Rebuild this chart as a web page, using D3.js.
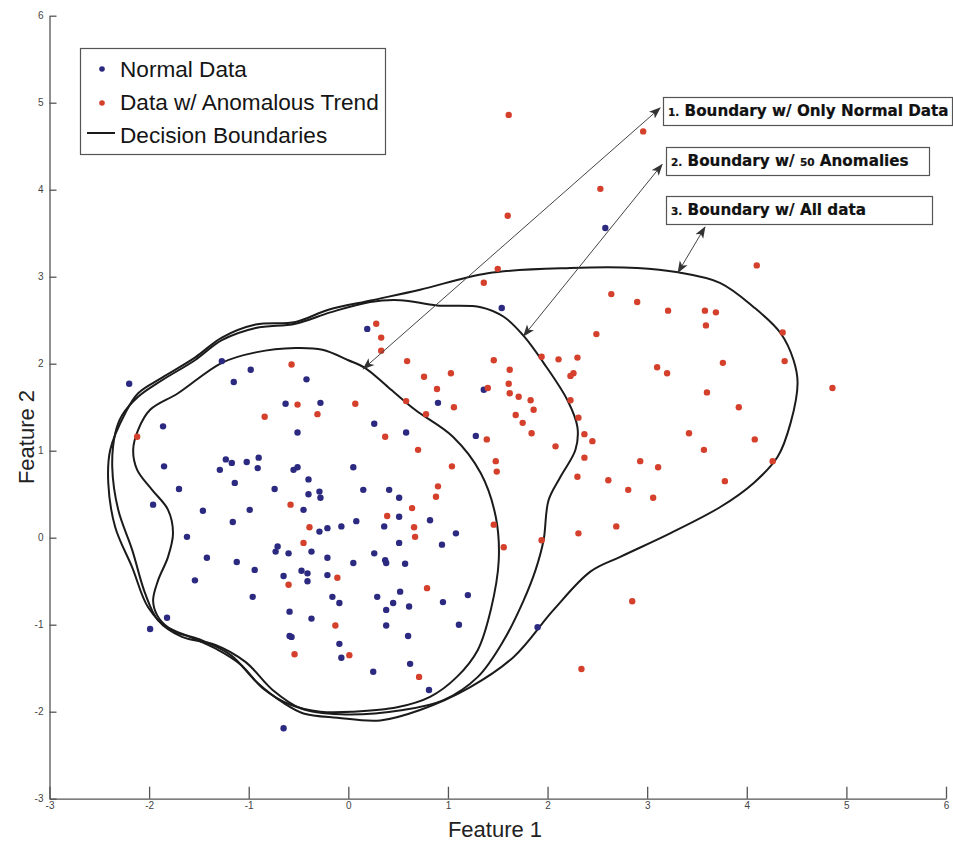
<!DOCTYPE html>
<html>
<head>
<meta charset="utf-8">
<script src="https://cdn.jsdelivr.net/npm/d3@7"></script>
<style>
  body { margin: 0; background: #fff; }
  svg { display: block; font-family: "Liberation Sans", Arial, sans-serif; }
  .axis path, .axis line { stroke: #555; stroke-width: 1.3; }
  .axis text { fill: #444; font-size: 10px; font-family: "Liberation Sans", Arial, sans-serif; }
</style>
</head>
<body>
<svg id="chart" width="953" height="844"></svg>
<script>
// ---- data (feature space units) ----
const axisTicks = [-3, -2, -1, 0, 1, 2, 3, 4, 5, 6];

const normalData = [
  [0.19, 2.40], [-1.27, 2.03], [-0.98, 1.93], [-0.42, 1.82], [-2.20, 1.77], [-1.15, 1.79],
  [1.36, 1.70], [0.90, 1.55], [-0.63, 1.54], [-0.28, 1.55], [-1.86, 1.28], [-0.51, 1.21],
  [0.26, 1.31], [0.58, 1.21], [1.28, 1.17], [-1.85, 0.82], [-1.23, 0.90], [-1.17, 0.86],
  [-1.02, 0.87], [-0.90, 0.92], [-1.29, 0.78], [-0.91, 0.80], [-0.55, 0.78], [-0.51, 0.81],
  [0.05, 0.81], [-1.14, 0.63], [-0.40, 0.67], [-1.70, 0.56], [-0.74, 0.56], [-0.40, 0.50],
  [-0.29, 0.53], [-0.28, 0.46], [0.15, 0.55], [0.41, 0.55], [0.51, 0.46], [-1.96, 0.38],
  [-1.46, 0.31], [-0.99, 0.32], [-0.45, 0.32], [0.51, 0.24], [0.82, 0.20], [-1.16, 0.18],
  [0.08, 0.19], [-0.07, 0.13], [-0.21, 0.11], [-0.29, 0.07], [0.36, 0.13], [1.08, 0.05],
  [-1.62, 0.01], [-0.71, -0.10], [0.51, -0.06], [0.94, -0.08], [-0.73, -0.16], [-0.60, -0.18],
  [-0.37, -0.16], [-1.42, -0.23], [-1.12, -0.28], [-0.94, -0.37], [-0.21, -0.23], [0.05, -0.29],
  [0.26, -0.18], [0.37, -0.26], [0.38, -0.29], [0.57, -0.30], [-1.54, -0.49], [-0.65, -0.44],
  [-0.47, -0.38], [-0.41, -0.41], [-0.41, -0.50], [-0.21, -0.43], [-0.96, -0.68], [-0.16, -0.68],
  [-0.09, -0.75], [0.29, -0.68], [0.52, -0.62], [0.45, -0.75], [0.61, -0.79], [0.95, -0.74],
  [1.20, -0.66], [0.38, -0.83], [-0.59, -0.85], [-0.37, -0.93], [0.38, -1.01], [1.11, -1.00],
  [-1.82, -0.92], [-1.99, -1.05], [-0.59, -1.13], [-0.57, -1.14], [0.60, -1.13], [-0.09, -1.22],
  [-0.07, -1.38], [0.25, -1.54], [0.62, -1.45], [0.81, -1.75], [-0.65, -2.19], [1.90, -1.03],
  [1.54, 2.64], [2.58, 3.56]
];

const anomalousData = [
  [0.28, 2.46], [0.33, 2.30], [0.33, 2.15], [-0.57, 1.99], [0.59, 2.03], [0.76, 1.85],
  [1.03, 1.89], [0.89, 1.71], [1.40, 1.72], [0.58, 1.57], [1.06, 1.50], [0.78, 1.42],
  [-0.51, 1.53], [-0.31, 1.42], [0.07, 1.54], [-0.84, 1.39], [-2.12, 1.16], [0.37, 1.16],
  [0.70, 1.01], [1.39, 1.13], [1.04, 0.82], [0.90, 0.59], [0.88, 0.47], [-0.58, 0.38],
  [0.64, 0.34], [0.39, 0.25], [-0.39, 0.12], [0.66, 0.12], [0.67, 0.01], [-0.45, -0.06],
  [-0.60, -0.54], [-0.11, -0.46], [0.79, -0.58], [-0.13, -1.01], [-0.54, -1.34], [0.01, -1.35],
  [0.71, -1.60], [2.85, -0.73], [2.34, -1.51], [1.50, 3.09], [1.36, 2.93], [4.10, 3.13],
  [2.64, 2.80], [2.90, 2.71], [3.21, 2.61], [3.58, 2.61], [3.69, 2.59], [3.59, 2.44],
  [4.36, 2.36], [2.49, 2.34], [4.38, 2.03], [3.76, 2.01], [3.10, 1.96], [3.20, 1.89],
  [1.46, 2.04], [1.62, 1.93], [1.61, 1.77], [1.62, 1.66], [1.71, 1.62], [1.83, 1.58],
  [1.86, 1.47], [1.68, 1.41], [1.75, 1.32], [1.84, 1.20], [1.94, 2.08], [2.11, 2.05],
  [2.30, 2.07], [2.23, 1.86], [2.26, 1.89], [3.60, 1.67], [3.92, 1.50], [2.23, 1.58],
  [2.31, 1.38], [2.37, 1.19], [2.45, 1.11], [2.08, 1.05], [1.48, 0.88], [1.49, 0.76],
  [3.42, 1.20], [4.86, 1.72], [4.08, 1.13], [3.57, 1.01], [4.26, 0.88], [2.93, 0.88],
  [3.11, 0.81], [2.37, 0.92], [2.30, 0.70], [2.61, 0.66], [2.81, 0.55], [3.06, 0.46],
  [3.78, 0.65], [1.46, 0.15], [1.56, -0.11], [2.31, 0.05], [2.69, 0.13], [1.94, -0.03],
  [1.61, 4.86], [2.96, 4.67], [2.53, 4.01], [1.60, 3.70]
];

// decision boundaries, traced as closed loops
const boundaryNormalOnly = [
  [-0.93, 2.13], [-0.53, 2.18], [-0.26, 2.16], [0.00, 2.04], [0.17, 1.95], [0.40, 1.73],
  [0.67, 1.47], [1.05, 1.16], [1.33, 0.74], [1.48, 0.24], [1.51, -0.26], [1.43, -0.83],
  [1.30, -1.29], [1.09, -1.60], [0.82, -1.83], [0.49, -1.95], [0.05, -2.00], [-0.28, -2.00],
  [-0.58, -1.92], [-0.86, -1.73], [-1.08, -1.46], [-1.34, -1.27], [-1.59, -1.14], [-1.81, -1.03],
  [-1.92, -0.89], [-1.96, -0.72], [-1.91, -0.49], [-1.81, -0.22], [-1.76, 0.05], [-1.81, 0.32],
  [-1.97, 0.55], [-2.12, 0.78], [-2.16, 1.01], [-2.11, 1.24], [-1.99, 1.47], [-1.71, 1.66],
  [-1.27, 2.01]
];

const boundary50Anomalies = [
  [0.89, 2.67], [1.33, 2.65], [1.56, 2.54], [1.76, 2.32], [1.96, 2.01], [2.20, 1.58],
  [2.30, 1.27], [2.28, 1.01], [2.13, 0.70], [2.01, 0.43], [1.96, -0.03], [1.88, -0.37],
  [1.76, -0.72], [1.56, -1.18], [1.30, -1.60], [0.95, -1.87], [0.55, -1.98], [-0.08, -2.03],
  [-0.48, -1.96], [-0.76, -1.75], [-1.03, -1.43], [-1.34, -1.23], [-1.67, -1.14], [-1.91, -0.95],
  [-2.04, -0.64], [-2.17, -0.14], [-2.31, 0.32], [-2.37, 0.81], [-2.34, 1.20], [-2.27, 1.41],
  [-2.11, 1.62], [-1.87, 1.81], [-1.54, 2.04], [-1.27, 2.27], [-0.93, 2.41], [-0.53, 2.46],
  [-0.18, 2.59], [0.22, 2.71], [0.52, 2.73]
];

const boundaryAllData = [
  [0.72, 2.85], [1.40, 3.04], [2.23, 3.10], [2.90, 3.10], [3.31, 3.05], [3.73, 2.93],
  [4.07, 2.65], [4.34, 2.35], [4.47, 2.04], [4.51, 1.78], [4.44, 1.32], [4.31, 0.93],
  [4.07, 0.63], [3.73, 0.35], [3.23, 0.05], [2.73, -0.22], [2.43, -0.39], [2.06, -0.83],
  [1.66, -1.37], [1.22, -1.72], [0.72, -1.98], [0.32, -2.10], [-0.11, -2.07], [-0.45, -2.02],
  [-0.65, -1.90], [-0.91, -1.67], [-1.18, -1.35], [-1.49, -1.17], [-1.79, -1.06], [-2.01, -0.80],
  [-2.17, -0.34], [-2.34, 0.12], [-2.41, 0.63], [-2.39, 1.01], [-2.24, 1.43], [-2.11, 1.66],
  [-1.87, 1.84], [-1.54, 2.07], [-1.27, 2.30], [-0.93, 2.45], [-0.53, 2.48], [-0.20, 2.62],
  [0.24, 2.73]
];

const legendLabels = ['Normal Data', 'Data w/ Anomalous Trend', 'Decision Boundaries'];

// annotation texts: small parts are the numbering / the "50"
const annotationTexts = [
  [{ t: '1.', small: true }, { t: ' Boundary w/ Only Normal Data' }],
  [{ t: '2.', small: true }, { t: ' Boundary w/ ' }, { t: '50', small: true }, { t: ' Anomalies' }],
  [{ t: '3.', small: true }, { t: ' Boundary w/ All data' }]
];
// arrow ends: [box end, boundary end]
const annotationArrows = [
  [[3.13, 4.94], [0.15, 1.94]],
  [[3.15, 4.29], [1.76, 2.32]],
  [[3.58, 3.57], [3.31, 3.05]]
];

// ---- layout ----
const colors = { normal: '#2c2a80', anomalous: '#d5402c', line: '#1b1b1b' };
const svg = d3.select('#chart');

svg.append('rect').attr('width', 953).attr('height', 844).attr('fill', '#fff');

const x = d3.scaleLinear().domain([-3, 6]).range([49.5, 946]);
const y = d3.scaleLinear().domain([-3, 6]).range([798.7, 15.7]);

// axes (ticks point inward, no outer ticks), plain hyphen for negatives
svg.append('g')
  .attr('class', 'axis')
  .attr('transform', `translate(0,${y(-3)})`)
  .call(d3.axisBottom(x).tickValues(axisTicks).tickSize(-12).tickSizeOuter(0).tickPadding(3)
    .tickFormat(d => String(d)));

svg.append('g')
  .attr('class', 'axis')
  .attr('transform', `translate(${x(-3)},0)`)
  .call(d3.axisLeft(y).tickValues(axisTicks).tickSize(-7).tickSizeOuter(0).tickPadding(6)
    .tickFormat(d => String(d)));

svg.append('text')
  .attr('x', 495).attr('y', 837)
  .attr('text-anchor', 'middle')
  .style('font-size', '22px').style('fill', '#222')
  .text('Feature 1');

svg.append('text')
  .attr('transform', 'translate(34,437) rotate(-90)')
  .attr('text-anchor', 'middle')
  .style('font-size', '22px').style('fill', '#222')
  .text('Feature 2');

// boundaries
const loop = d3.line()
  .x(d => x(d[0]))
  .y(d => y(d[1]))
  .curve(d3.curveCatmullRomClosed.alpha(0.5));

svg.append('g')
  .selectAll('path')
  .data([boundaryNormalOnly, boundary50Anomalies, boundaryAllData])
  .join('path')
  .attr('d', loop)
  .attr('fill', 'none')
  .attr('stroke', colors.line)
  .attr('stroke-width', 2);

// points
svg.append('g')
  .selectAll('circle')
  .data(normalData)
  .join('circle')
  .attr('cx', d => x(d[0]))
  .attr('cy', d => y(d[1]))
  .attr('r', 3.2)
  .attr('fill', colors.normal);

svg.append('g')
  .selectAll('circle')
  .data(anomalousData)
  .join('circle')
  .attr('cx', d => x(d[0]))
  .attr('cy', d => y(d[1]))
  .attr('r', 3.2)
  .attr('fill', colors.anomalous);

// legend
const legend = svg.append('g');
legend.append('rect')
  .attr('x', 80.5).attr('y', 48.5)
  .attr('width', 305).attr('height', 106)
  .attr('fill', '#fff')
  .attr('stroke', '#555').attr('stroke-width', 1.2);

const legendRowY = [77, 110, 143];
legend.selectAll('text')
  .data(legendLabels)
  .join('text')
  .attr('x', 120)
  .attr('y', (d, i) => legendRowY[i])
  .style('font-size', '22.6px').style('fill', '#151515')
  .text(d => d);

legend.append('circle').attr('cx', 102).attr('cy', 69).attr('r', 2.8).attr('fill', colors.normal);
legend.append('circle').attr('cx', 102).attr('cy', 103).attr('r', 2.8).attr('fill', colors.anomalous);
legend.append('line')
  .attr('x1', 87).attr('x2', 115)
  .attr('y1', 133).attr('y2', 133)
  .attr('stroke', colors.line).attr('stroke-width', 2);

// annotation arrows
const defs = svg.append('defs');
defs.append('marker')
  .attr('id', 'head')
  .attr('viewBox', '0 -5 12 10')
  .attr('refX', 11).attr('refY', 0)
  .attr('markerUnits', 'userSpaceOnUse')
  .attr('markerWidth', 12).attr('markerHeight', 10)
  .attr('orient', 'auto-start-reverse')
  .append('path')
  .attr('d', 'M0,-4.5L12,0L0,4.5L3,0Z')
  .attr('fill', '#333');

svg.append('g')
  .selectAll('line')
  .data(annotationArrows)
  .join('line')
  .attr('x1', d => x(d[0][0])).attr('y1', d => y(d[0][1]))
  .attr('x2', d => x(d[1][0])).attr('y2', d => y(d[1][1]))
  .attr('stroke', '#444').attr('stroke-width', 1)
  .attr('marker-start', 'url(#head)')
  .attr('marker-end', 'url(#head)');

// annotation boxes
const boxes = [
  { x: 663, y: 97, w: 289, h: 28 },
  { x: 666, y: 147, w: 263, h: 28 },
  { x: 666, y: 196, w: 266, h: 28 }
];

const ann = svg.append('g')
  .selectAll('g')
  .data(annotationTexts)
  .join('g')
  .attr('transform', (d, i) => `translate(${boxes[i].x},${boxes[i].y})`);

ann.append('rect')
  .attr('x', 0.5).attr('y', 0.5)
  .attr('width', (d, i) => boxes[i].w)
  .attr('height', (d, i) => boxes[i].h)
  .attr('fill', '#fff')
  .attr('stroke', '#555').attr('stroke-width', 1.2);

ann.append('text')
  .attr('x', 5).attr('y', 19)
  .style('font-family', '"DejaVu Sans", sans-serif')
  .style('font-weight', 'bold')
  .style('fill', '#111')
  .style('stroke', '#111').style('stroke-width', 0.2)
  .selectAll('tspan')
  .data(d => d)
  .join('tspan')
  .style('font-size', d => d.small ? '10.5px' : '15.2px')
  .text(d => d.t);
</script>
</body>
</html>
